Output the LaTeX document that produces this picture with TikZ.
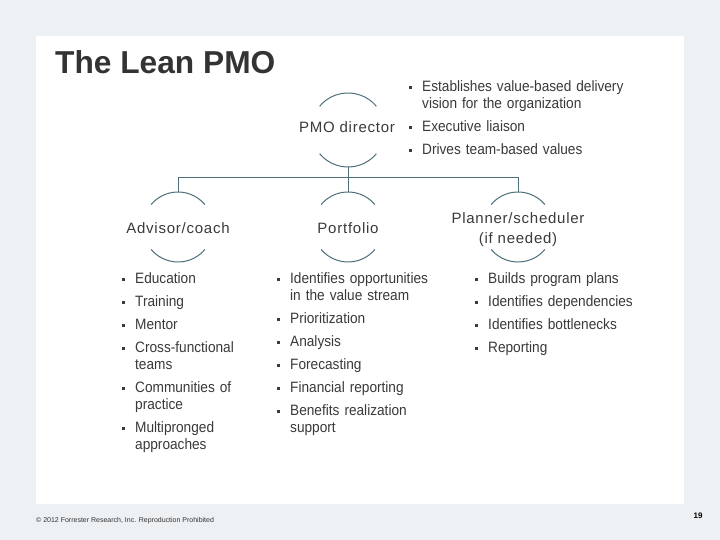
\documentclass[tikz,border=0pt]{standalone}
\usepackage{fontspec}
\setmainfont{Liberation Sans}
\newfontfamily\pmoitemfont[FakeStretch=0.91]{Liberation Sans}
\newfontfamily\pmoheadfont[LetterSpace=5]{Liberation Sans}

\definecolor{pmobg}{HTML}{EDF1F4}
\definecolor{pmotext}{HTML}{3A3A3A}
\definecolor{pmotitle}{HTML}{333333}
\definecolor{pmoline}{HTML}{4D6F7C}

\newcommand{\pmobullet}{\rule[2.5bp]{3bp}{3bp}}
\newenvironment{pmoitems}{\begin{list}{\pmobullet}{%
  \setlength{\leftmargin}{15bp}\setlength{\labelwidth}{4.5bp}%
  \setlength{\labelsep}{10.5bp}\setlength{\itemsep}{6bp}%
  \setlength{\parsep}{0pt}\setlength{\topsep}{0pt}%
  \setlength{\partopsep}{0pt}\setlength{\itemindent}{0pt}}}{\end{list}}

\tikzstyle{role} = [circle, minimum size=70bp, inner sep=0pt, outer sep=0pt]
\tikzstyle{arcline} = [draw=pmoline, line width=1bp]
\tikzstyle{roletext} = [text=pmotext, font=\pmoheadfont\fontsize{15bp}{20bp}\selectfont, inner sep=0pt, anchor=base, align=center]
\tikzstyle{duties} = [text=pmotext, font=\pmoitemfont\fontsize{15bp}{17bp}\selectfont, inner sep=0pt, anchor=base west, text width=240bp, align=left]

\begin{document}
\begin{tikzpicture}[x=1bp, y=1bp]
	\useasboundingbox (0,0) rectangle (720,540);
	% slide
	\fill[pmobg] (0,0) rectangle (720,540);
	\fill[white] (36,36) rectangle (684,504);
	\node[text=pmotitle, font=\bfseries\fontsize{31.7bp}{36bp}\selectfont, inner sep=0pt, anchor=base west] (title) at (55,466) {The Lean PMO};

	% director
	\node[role, minimum size=74bp] (dir) at (348,410) {};
	\draw[arcline] (dir.40) arc[start angle=40, end angle=140, radius=37bp];
	\draw[arcline] (dir.220) arc[start angle=220, end angle=320, radius=37bp];
	\node[roletext] (dirlbl) at (347,407.5) {PMO director};
	\node[duties] (dirtasks) at (407,465.5) {%
		\begin{pmoitems}
			\item Establishes value-based delivery\\vision for the organization
			\item Executive liaison
			\item Drives team-based values
		\end{pmoitems}};

	% team roles
	\node[role] (adv) at (178,313) {};
	\node[role] (port) at (348,313) {};
	\node[role] (plan) at (518,313) {};
	\foreach \r in {adv, port, plan} {
		\draw[arcline] (\r.40) arc[start angle=40, end angle=140, radius=35bp];
		\draw[arcline] (\r.220) arc[start angle=220, end angle=320, radius=35bp];
	}
	\node[roletext] (advlbl) at (178,306.5) {Advisor/coach};
	\node[roletext] (portlbl) at (348,306.5) {Portfolio};
	\node[roletext] (planlbl) at (518,296.5) {Planner/scheduler\\(if needed)};

	% connectors
	\coordinate (bus) at (348,362);
	\draw[arcline] (dir.south) -- (bus);
	\draw[arcline] (adv.north) -- (adv.north |- bus) -- (plan.north |- bus) -- (plan.north);
	\draw[arcline] (port.north) -- (bus);

	% duties
	\node[duties] (advtasks) at (120,273) {%
		\begin{pmoitems}
			\item Education
			\item Training
			\item Mentor
			\item Cross-functional\\teams
			\item Communities of\\practice
			\item Multipronged\\approaches
		\end{pmoitems}};
	\node[duties] (porttasks) at (275,273.5) {%
		\begin{pmoitems}
			\item Identifies opportunities\\in the value stream
			\item Prioritization
			\item Analysis
			\item Forecasting
			\item Financial reporting
			\item Benefits realization\\support
		\end{pmoitems}};
	\node[duties] (plantasks) at (473,273) {%
		\begin{pmoitems}
			\item Builds program plans
			\item Identifies dependencies
			\item Identifies bottlenecks
			\item Reporting
		\end{pmoitems}};

	% footer
	\node[text=pmotitle, font=\fontsize{7bp}{8bp}\selectfont, inner sep=0pt, anchor=base west] (copy) at (36,17) {© 2012 Forrester Research, Inc. Reproduction Prohibited};
	\node[text=black, font=\bfseries\fontsize{8bp}{9bp}\selectfont, inner sep=0pt, anchor=base] (page) at (698,21) {19};
\end{tikzpicture}
\end{document}
